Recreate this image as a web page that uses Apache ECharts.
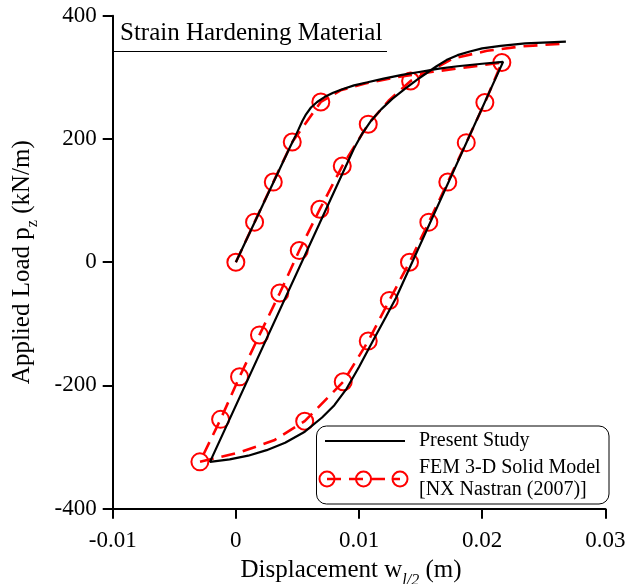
<!DOCTYPE html>
<html><head><meta charset="utf-8">
<script src="https://cdn.jsdelivr.net/npm/echarts@6/dist/echarts.min.js"></script>
<style>html,body{margin:0;padding:0;background:#fff}#c{width:628px;height:584px}</style>
</head><body><div id="c"></div>
<script>
// ---- data ----
const xTicks = [-0.01, 0, 0.01, 0.02, 0.03];
const yTicks = [-400, -200, 0, 200, 400];
const chartTitle = 'Strain Hardening Material';
const seriesNames = ['Present Study', 'FEM 3-D Solid Model', '[NX Nastran (2007)]'];

// Present Study (loading -> unloading -> reloading)
const studyX = [0, 0.0044, 0.0048, 0.0051, 0.0054, 0.0057, 0.0061, 0.0066, 0.0072, 0.0079, 0.0087, 0.0096, 0.0107, 0.0120, 0.0135, 0.0150, 0.0165, 0.0180, 0.0200, 0.0217,
  0.0130, 0.0122, 0.0112, 0.0100, 0.0090, 0.0080, 0.0070, 0.0056, 0.0040, 0.0025, 0.0010, -0.0005, -0.0021,
  0.0096, 0.0103, 0.0110, 0.0118, 0.0127, 0.0137, 0.0147, 0.0155, 0.0163, 0.0171, 0.0180, 0.0190, 0.0200, 0.0215, 0.0235, 0.0268];
const studyY = [0, 187, 203, 216, 229, 240, 251, 260, 268, 275, 281, 287, 292, 298, 304, 309, 314, 318, 322, 325,
  -58, -88, -125, -170, -205, -232, -252, -275, -293, -305, -314, -320, -324,
  185, 210, 230, 248, 265, 281, 296, 307, 318, 328, 336, 342, 347, 351, 355, 358];

// FEM 3-D Solid Model (1 = circle marker drawn at that point)
const femX = [0, 0.00152, 0.00304, 0.00458, 0.0069, 0.0085, 0.0105, 0.0130, 0.0160, 0.0190, 0.0216,
  0.02022, 0.01871, 0.01721, 0.01567, 0.0141, 0.01246, 0.01075, 0.00872, 0.00559, 0.0031, 0.0004, -0.00292,
  -0.00124, 0.0003, 0.00192, 0.00357, 0.00515, 0.00682, 0.00864, 0.01075, 0.0124, 0.01419, 0.0160, 0.0177, 0.0204, 0.0231, 0.0268];
const femY = [0, 65, 130, 195, 260, 279, 290, 300, 309, 317, 324,
  259, 194, 130, 65, 0, -62, -128, -194, -258, -289, -308, -324,
  -255, -186, -118, -50, 19, 86, 156, 224, 262, 294, 313, 331, 343, 350, 355];
const femMarked = [1, 1, 1, 1, 1, 0, 0, 0, 0, 0, 1,
  1, 1, 1, 1, 1, 1, 1, 1, 1, 0, 0, 1,
  1, 1, 1, 1, 1, 1, 1, 1, 0, 1, 0, 0, 0, 0, 0];

// ---- chart ----
const FONT = 'Liberation Serif';
const studyData = studyX.map((x, i) => [x, studyY[i]]);
const femData = femX.map((x, i) => femMarked[i] ? { value: [x, femY[i]] } : { value: [x, femY[i]], symbol: 'none' });

const chart = echarts.init(document.getElementById('c'), null, { renderer: 'canvas' });
const axisCommon = {
  axisLine: { show: true, onZero: false, lineStyle: { color: '#000', width: 2 } },
  axisTick: { show: true, inside: false, length: 10, lineStyle: { color: '#000', width: 2 } },
  splitLine: { show: false },
  nameLocation: 'middle'
};
chart.setOption({
  animation: false,
  backgroundColor: '#fff',
  grid: { left: 112.7, right: 22.7, top: 15.7, bottom: 75.3, containLabel: false, outerBoundsMode: 'none' },
  xAxis: Object.assign({}, axisCommon, {
    type: 'value',
    min: xTicks[0], max: xTicks[xTicks.length - 1], interval: xTicks[1] - xTicks[0],
    axisLabel: { color: '#000', fontFamily: FONT, fontSize: 23, margin: 21,
      formatter: v => String(Math.round(v * 100) / 100) },
    name: '{m|Displacement w}{s|l/2}{e| (m)}',
    nameGap: 40,
    nameTextStyle: { color: '#000', fontFamily: FONT, fontSize: 25,
      rich: {
        m: { fontFamily: FONT, fontSize: 25, color: '#000', verticalAlign: 'bottom', padding: [0, 0, 6, 0] },
        e: { fontFamily: FONT, fontSize: 25, color: '#000', verticalAlign: 'bottom', padding: [0, 16, 6, 0] },
        s: { fontFamily: FONT, fontSize: 16, fontStyle: 'italic', color: '#000', verticalAlign: 'bottom' }
      } }
  }),
  yAxis: Object.assign({}, axisCommon, {
    type: 'value',
    min: yTicks[0], max: yTicks[yTicks.length - 1], interval: yTicks[1] - yTicks[0],
    axisLabel: { color: '#000', fontFamily: FONT, fontSize: 23, margin: 16 },
    name: '{m|Applied Load p}{s|z}{m| (kN/m)}',
    nameGap: 72,
    nameTextStyle: { color: '#000', fontFamily: FONT, fontSize: 25,
      rich: {
        m: { fontFamily: FONT, fontSize: 25, color: '#000', verticalAlign: 'bottom', padding: [0, 0, 6, 0] },
        s: { fontFamily: FONT, fontSize: 16, color: '#000', verticalAlign: 'bottom' }
      } }
  }),
  series: [
    {
      name: seriesNames[1], type: 'line', data: femData, z: 2,
      showSymbol: true, showAllSymbol: true, symbol: 'circle', symbolSize: 17,
      lineStyle: { color: '#ff0000', width: 2.6, type: [14, 8] },
      itemStyle: { color: 'rgba(0,0,0,0)', borderColor: '#ff0000', borderWidth: 2 },
      emphasis: { disabled: true }
    },
    {
      name: seriesNames[0], type: 'line', data: studyData, z: 3,
      showSymbol: false, symbol: 'none',
      lineStyle: { color: '#000', width: 2.2 },
      itemStyle: { color: '#000' },
      emphasis: { disabled: true }
    }
  ],
  graphic: [
    { type: 'text', z: 100, style: { x: 120, y: 33.5, text: chartTitle, fontFamily: FONT, fontSize: 25, fill: '#000', verticalAlign: 'middle', align: 'left' } },
    { type: 'line', z: 100, shape: { x1: 113, y1: 51.5, x2: 387, y2: 51.5 }, style: { stroke: '#000', lineWidth: 1 } },
    { type: 'rect', z: 100, shape: { x: 316.5, y: 426, width: 292.5, height: 78, r: 10 }, style: { fill: '#fff', stroke: '#000', lineWidth: 1 } },
    { type: 'line', z: 101, shape: { x1: 325, y1: 441, x2: 405, y2: 441 }, style: { stroke: '#000', lineWidth: 2.2 } },
    { type: 'line', z: 101, shape: { x1: 327, y1: 479, x2: 400, y2: 479 }, style: { stroke: '#ff0000', lineWidth: 2.6, lineDash: [14, 8] } },
    { type: 'circle', z: 101, shape: { cx: 327, cy: 479, r: 7.5 }, style: { fill: 'none', stroke: '#ff0000', lineWidth: 2 } },
    { type: 'circle', z: 101, shape: { cx: 363.5, cy: 479, r: 7.5 }, style: { fill: 'none', stroke: '#ff0000', lineWidth: 2 } },
    { type: 'circle', z: 101, shape: { cx: 400, cy: 479, r: 7.5 }, style: { fill: 'none', stroke: '#ff0000', lineWidth: 2 } },
    { type: 'text', z: 101, style: { x: 419, y: 440.5, text: seriesNames[0], fontFamily: FONT, fontSize: 20, fill: '#000', verticalAlign: 'middle' } },
    { type: 'text', z: 101, style: { x: 419, y: 467.5, text: seriesNames[1], fontFamily: FONT, fontSize: 20, fill: '#000', verticalAlign: 'middle' } },
    { type: 'text', z: 101, style: { x: 419, y: 490, text: seriesNames[2], fontFamily: FONT, fontSize: 20, fill: '#000', verticalAlign: 'middle' } }
  ]
});
</script>
</body></html>
